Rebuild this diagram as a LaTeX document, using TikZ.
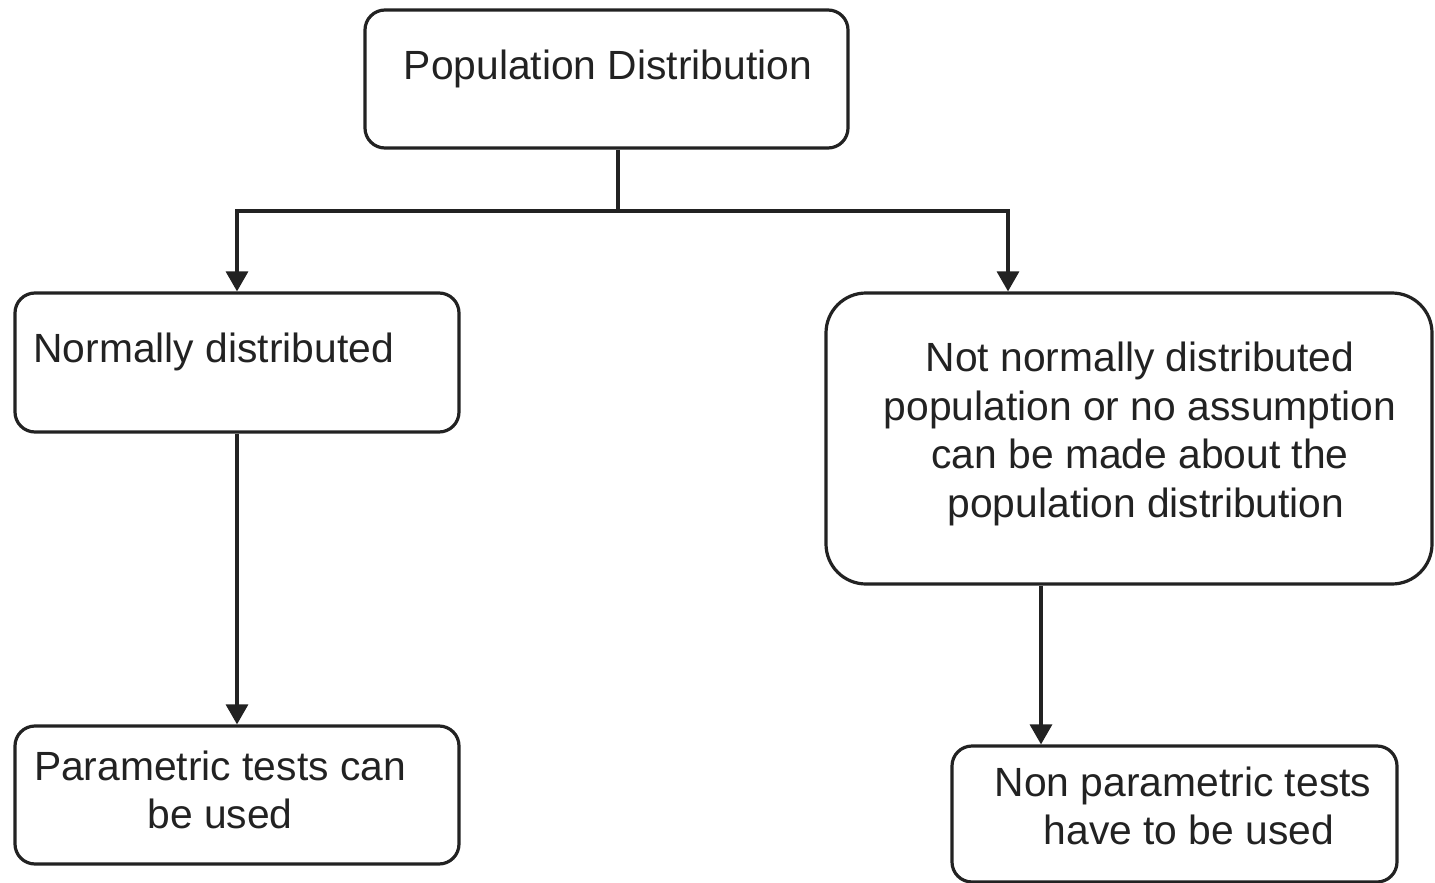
\documentclass[tikz,border=0pt]{standalone}
\usepackage{fontspec}
\setmainfont{Liberation Sans}
\usetikzlibrary{arrows.meta}
\definecolor{ink}{HTML}{222222}
\begin{document}
\begin{tikzpicture}[x=0.5pt,y=-0.5pt,
  box/.style={draw=ink,line width=1.6pt,rounded corners=10pt,inner sep=0pt},
  txt/.style={inner sep=0pt,text=ink,font=\fontsize{20.4}{24.4}\selectfont,align=center},
  conn/.style={draw=ink,line width=1.6pt},
  arr/.style={conn,-{Triangle[length=10pt,width=11pt]}}]
\useasboundingbox (0,0) rectangle (1435,883);
% boxes
\node[box,minimum width=241.5pt,minimum height=69pt] (top) at (606.5,79) {};
\node[box,minimum width=222pt,minimum height=69.5pt] (nd) at (237,362.5) {};
\node[box,rounded corners=20pt,minimum width=303pt,minimum height=145.5pt] (nn) at (1129,438.5) {};
\node[box,minimum width=222pt,minimum height=69pt] (pt) at (237,795) {};
\node[box,minimum width=222.5pt,minimum height=68pt] (np) at (1174.5,814) {};
% texts
\node[txt,anchor=base] (toptxt) at (608,80) {Population Distribution};
\node[txt,anchor=base west] (ndtxt) at (33,362) {Normally distributed};
\node[txt] (nntxt) at (1140,434) {Not normally distributed\\population or no assumption\\can be made about the\\\hspace{6pt}population distribution};
\node[txt] (pttxt) at (220,790) {Parametric tests can\\be used};
\node[txt] (nptxt) at (1183,806) {Non parametric tests\\\hspace{6pt}have to be used};
% connectors
\coordinate (j) at (618,211);
\coordinate (jl) at (237,211);
\coordinate (jr) at (1008,211);
\coordinate (a2) at (1041,600);
\draw[conn] (top.south -| j) -- (j);
\draw[arr] (j) -- (jl) -- (nd.north);
\draw[arr] (j) -- (jr) -- (nn.north -| jr);
\draw[arr] (nd.south) -- (pt.north);
\draw[arr] (nn.south -| a2) -- (np.north -| a2);
\end{tikzpicture}
\end{document}
